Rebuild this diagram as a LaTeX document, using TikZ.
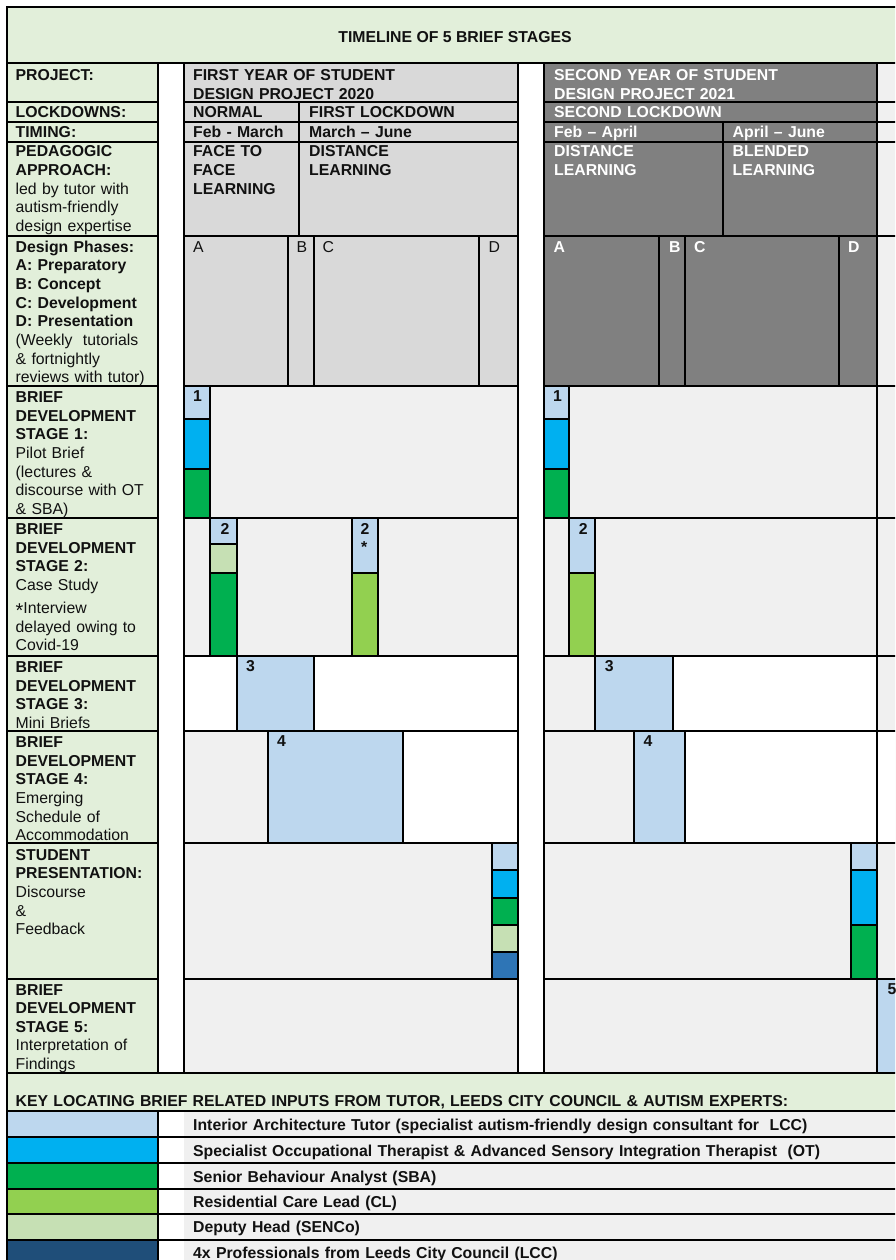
\documentclass[tikz,border=0pt]{standalone}
\usepackage{fontspec}
\setmainfont{Liberation Sans}
\newcommand\myfs{\fontsize{15.8}{18.7}\selectfont}
\definecolor{lgreen}{HTML}{E2EFDA}
\definecolor{hdrone}{HTML}{D9D9D9}
\definecolor{hdrtwo}{HTML}{808080}
\definecolor{cellg}{HTML}{F0F0F0}
\definecolor{lblue}{HTML}{BDD7EE}
\definecolor{cyanc}{HTML}{00B0F0}
\definecolor{greenc}{HTML}{00B050}
\definecolor{ygreen}{HTML}{92D050}
\definecolor{pgreen}{HTML}{C6E0B4}
\definecolor{mblue}{HTML}{2E75B6}
\definecolor{navy}{HTML}{1F4E79}
\definecolor{ink}{HTML}{111111}
\begin{document}
\begin{tikzpicture}[x=1pt,y=-1pt,
  grid/.style={line width=1.6pt,line cap=rect,draw=black},
  lbl/.style={anchor=base west,inner sep=0pt,align=left,text width=420pt,font=\myfs,text=ink},
  wlbl/.style={lbl,text=white,font=\myfs\bfseries},
  blbl/.style={lbl,font=\myfs\bfseries}]
\useasboundingbox (0,0) rectangle (895,1260);
\clip (0,0) rectangle (895,1260);
\fill[white] (0,0) rectangle (895,1260);
% ---------- fills
\fill[lgreen] (7,7) rectangle (903,63);
\fill[lgreen] (7,63) rectangle (158,1073);
\fill[hdrone] (184,63) rectangle (518,386);
\fill[hdrtwo] (544,63) rectangle (877,386);
\fill[cellg] (877,63) rectangle (903,1073);
\fill[white] (877,731) rectangle (903,843);
\fill[lblue] (877,979) rectangle (903,1073);
% year 1 body
\fill[cellg] (184,386) rectangle (518,518);
\fill[lblue] (184,386) rectangle (210,419);
\fill[cyanc] (184,419) rectangle (210,469);
\fill[greenc] (184,469) rectangle (210,518);
\fill[cellg] (184,518) rectangle (518,656);
\fill[lblue] (210,518) rectangle (237,544);
\fill[pgreen] (210,544) rectangle (237,573);
\fill[greenc] (210,573) rectangle (237,656);
\fill[lblue] (352,518) rectangle (378,573);
\fill[ygreen] (352,573) rectangle (378,656);
\fill[lblue] (237,656) rectangle (314,731);
\fill[cellg] (184,731) rectangle (268,843);
\fill[lblue] (268,731) rectangle (403,843);
\fill[cellg] (184,843) rectangle (518,979);
\fill[lblue] (492,843) rectangle (518,870);
\fill[cyanc] (492,870) rectangle (518,898);
\fill[greenc] (492,898) rectangle (518,925);
\fill[pgreen] (492,925) rectangle (518,952);
\fill[mblue] (492,952) rectangle (518,979);
\fill[cellg] (184,979) rectangle (518,1073);
% year 2 body
\fill[cellg] (544,386) rectangle (877,518);
\fill[lblue] (544,386) rectangle (569,419);
\fill[cyanc] (544,419) rectangle (569,469);
\fill[greenc] (544,469) rectangle (569,518);
\fill[cellg] (544,518) rectangle (877,656);
\fill[lblue] (569,518) rectangle (595,573);
\fill[ygreen] (569,573) rectangle (595,656);
\fill[cellg] (544,656) rectangle (595,731);
\fill[lblue] (595,656) rectangle (673,731);
\fill[cellg] (544,731) rectangle (634,843);
\fill[lblue] (634,731) rectangle (685,843);
\fill[cellg] (544,843) rectangle (877,979);
\fill[lblue] (851,843) rectangle (877,870);
\fill[cyanc] (851,870) rectangle (877,925);
\fill[greenc] (851,925) rectangle (877,979);
\fill[cellg] (544,979) rectangle (877,1073);
% key
\fill[lgreen] (7,1073) rectangle (903,1111);
\fill[lblue] (7,1111) rectangle (158,1137);
\fill[cyanc] (7,1137) rectangle (158,1163);
\fill[greenc] (7,1163) rectangle (158,1189);
\fill[ygreen] (7,1189) rectangle (158,1214);
\fill[pgreen] (7,1214) rectangle (158,1240);
\fill[navy] (7,1240) rectangle (158,1266);
\fill[cellg] (184,1111) rectangle (903,1266);
% ---------- lines
\foreach \yy in {102,122,142,236,386,518,656,731,843,979}{
  \draw[grid] (7,\yy) -- (158,\yy);
  \draw[grid] (184,\yy) -- (518,\yy);
  \draw[grid] (544,\yy) -- (903,\yy);
}
\foreach \yy in {63,1073,1111,1137,1163,1189,1214,1240}{
  \draw[grid] (7,\yy) -- (903,\yy);
}
\foreach \xx in {158,184,518,544,877}{
  \draw[grid] (\xx,63) -- (\xx,1073);
}
\draw[grid] (158,1111) -- (158,1266);
\draw[grid] (299,102) -- (299,236);
\draw[grid] (723,122) -- (723,236);
\foreach \xx in {288,314,479,659,685,839}{
  \draw[grid] (\xx,236) -- (\xx,386);
}
% stage 1
\draw[grid] (210,386) -- (210,518);
\draw[grid] (184,419) -- (210,419);
\draw[grid] (184,469) -- (210,469);
\draw[grid] (569,386) -- (569,518);
\draw[grid] (544,419) -- (569,419);
\draw[grid] (544,469) -- (569,469);
% stage 2
\foreach \xx in {210,237,352,378,569,595}{
  \draw[grid] (\xx,518) -- (\xx,656);
}
\draw[grid] (210,544) -- (237,544);
\draw[grid] (210,573) -- (237,573);
\draw[grid] (352,573) -- (378,573);
\draw[grid] (569,573) -- (595,573);
% stage 3 and 4
\foreach \xx in {237,314,595,673}{
  \draw[grid] (\xx,656) -- (\xx,731);
}
\foreach \xx in {268,403,634,685}{
  \draw[grid] (\xx,731) -- (\xx,843);
}
% presentation
\draw[grid] (492,843) -- (492,979);
\foreach \yy in {870,898,925,952}{
  \draw[grid] (492,\yy) -- (518,\yy);
}
\draw[grid] (851,843) -- (851,979);
\draw[grid] (851,870) -- (877,870);
\draw[grid] (851,925) -- (877,925);
% outer frame
\draw[line width=2pt] (7,7) rectangle (903,1266);
% ---------- texts
\node[anchor=base,inner sep=0pt,font=\myfs\bfseries,text=ink] (title) at (455,42.7) {TIMELINE OF 5 BRIEF STAGES};
% label column
\node[blbl] (lproj) at (15.5,81) {PROJECT:};
\node[blbl] (llock) at (15.5,118) {LOCKDOWNS:};
\node[blbl] (ltime) at (15.5,137.7) {TIMING:};
\node[lbl] (lped) at (15.5,156.7) {\textbf{PEDAGOGIC}\\\textbf{APPROACH:}\\led by tutor with\\autism-friendly\\design expertise};
\node[lbl] (lphase) at (15.5,252) {\textbf{Design Phases:}\\\textbf{A: Preparatory}\\\textbf{B: Concept}\\\textbf{C: Development}\\\textbf{D: Presentation}\\(Weekly\ \ tutorials\\\& fortnightly\\reviews with tutor)};
\node[lbl] (ls1) at (15.5,402.3) {\textbf{BRIEF}\\\textbf{DEVELOPMENT}\\\textbf{STAGE 1:}\\Pilot Brief\\(lectures \&\\discourse with OT\\\& SBA)};
\node[lbl] (ls2) at (15.5,534.3) {\textbf{BRIEF}\\\textbf{DEVELOPMENT}\\\textbf{STAGE 2:}\\Case Study\\[4.3pt]\smash{\raisebox{-4pt}{\fontsize{20}{20}\selectfont *}}Interview\\delayed owing to\\Covid-19};
\node[lbl] (ls3) at (15.5,672.3) {\textbf{BRIEF}\\\textbf{DEVELOPMENT}\\\textbf{STAGE 3:}\\Mini Briefs};
\node[lbl] (ls4) at (15.5,747.3) {\textbf{BRIEF}\\\textbf{DEVELOPMENT}\\\textbf{STAGE 4:}\\Emerging\\Schedule of\\Accommodation};
\node[lbl] (lsp) at (15.5,860) {\textbf{STUDENT}\\\textbf{PRESENTATION:}\\Discourse\\\&\\Feedback};
\node[lbl,font=\fontsize{15.8}{18.5}\selectfont] (ls5) at (15.5,995) {\textbf{BRIEF}\\\textbf{DEVELOPMENT}\\\textbf{STAGE 5:}\\Interpretation of\\Findings};
% year 1 header
\node[blbl] (yaproj) at (193,81) {FIRST YEAR OF STUDENT\\DESIGN PROJECT 2020};
\node[blbl] (yanorm) at (193,118) {NORMAL};
\node[blbl] (yafirst) at (309,118) {FIRST LOCKDOWN};
\node[blbl] (yafeb) at (193,137.7) {Feb - March};
\node[blbl] (yamar) at (309,137.7) {March -- June};
\node[blbl] (yaface) at (193,156.7) {FACE TO\\FACE\\LEARNING};
\node[blbl] (yadist) at (309,156.7) {DISTANCE\\LEARNING};
\node[lbl] (yaA) at (193,252) {A};
\node[lbl] (yaB) at (296.5,252) {B};
\node[lbl] (yaC) at (322.3,252) {C};
\node[lbl] (yaD) at (488.3,252) {D};
% year 2 header
\node[wlbl] (ybproj) at (554,81) {SECOND YEAR OF STUDENT\\DESIGN PROJECT 2021};
\node[wlbl] (ybsec) at (554,118) {SECOND LOCKDOWN};
\node[wlbl] (ybfeb) at (554,137.7) {Feb -- April};
\node[wlbl] (ybapr) at (732.5,137.7) {April -- June};
\node[wlbl] (ybdist) at (554,156.7) {DISTANCE\\LEARNING};
\node[wlbl] (ybblend) at (732.5,156.7) {BLENDED\\LEARNING};
\node[wlbl] (ybA) at (553.5,252) {A};
\node[wlbl] (ybB) at (669,252) {B};
\node[wlbl] (ybC) at (694,252) {C};
\node[wlbl] (ybD) at (848,252) {D};
% stage numbers
\node[blbl] (na1) at (192.8,401.7) {1};
\node[blbl] (nb1) at (552.8,401.7) {1};
\node[blbl] (na2) at (220.3,534) {2};
\node[blbl] (na2s) at (360.5,534) {2};
\node[blbl] (na2t) at (360.8,552.7) {*};
\node[blbl] (nb2) at (578.6,534) {2};
\node[blbl] (na3) at (246,671.7) {3};
\node[blbl] (nb3) at (604.6,671.7) {3};
\node[blbl] (na4) at (277,746.7) {4};
\node[blbl] (nb4) at (643.3,746.7) {4};
\node[blbl] (nb5) at (887.3,994) {5};
% key
\node[blbl,text width=880pt] (keyh) at (15.5,1106.7) {KEY LOCATING BRIEF RELATED INPUTS FROM TUTOR, LEEDS CITY COUNCIL \& AUTISM EXPERTS:};
\node[blbl,text width=700pt] (k1) at (193,1130) {Interior Architecture Tutor (specialist autism-friendly design consultant for\ \ LCC)};
\node[blbl,text width=700pt] (k2) at (193,1156) {Specialist Occupational Therapist \& Advanced Sensory Integration Therapist\ \ (OT)};
\node[blbl] (k3) at (193,1182.3) {Senior Behaviour Analyst (SBA)};
\node[blbl] (k4) at (193,1207.3) {Residential Care Lead (CL)};
\node[blbl] (k5) at (193,1232.7) {Deputy Head (SENCo)};
\node[blbl] (k6) at (193,1258.3) {4x Professionals from Leeds City Council (LCC)};
\end{tikzpicture}
\end{document}
